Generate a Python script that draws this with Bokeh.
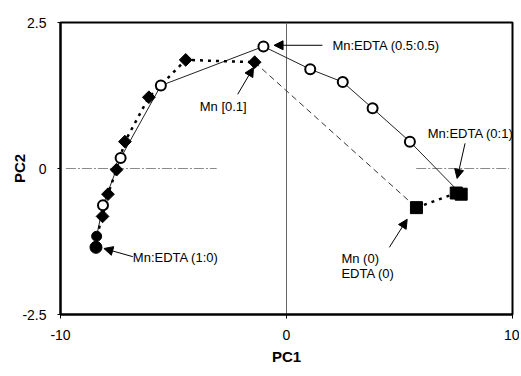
from bokeh.plotting import figure
from bokeh.models import Range1d, FixedTicker, Label, Arrow, NormalHead
from bokeh.embed import file_html
from bokeh.resources import INLINE

# Mn:EDTA mixing series (open circles, solid line) from 1:0 to 0:1
mix_x = [-8.43, -8.40, -8.12, -7.34, -5.56, -1.02, 1.05, 2.49, 3.81, 5.46, 7.73]
mix_y = [-1.35, -1.16, -0.63, 0.18, 1.42, 2.09, 1.70, 1.48, 1.03, 0.46, -0.44]

# Mn series (diamonds), from Mn high down to Mn [0.1]
mn_x = [-8.40, -8.14, -7.90, -7.52, -7.15, -6.09, -4.46, -1.41]
mn_y = [-1.16, -0.82, -0.44, -0.02, 0.46, 1.22, 1.86, 1.82]

# blank Mn(0) EDTA(0)
blank_x = [5.75]
blank_y = [-0.67]

# EDTA-only series (squares)
edta_x = [5.75, 7.51, 7.73]
edta_y = [-0.67, -0.42, -0.44]

FONT = "Liberation Sans"

p = figure(width=519, height=372, output_backend="svg", toolbar_location=None,
           x_range=Range1d(-10, 10), y_range=Range1d(-2.5, 2.5),
           min_border_left=60, min_border_right=7, min_border_top=22, min_border_bottom=58)
p.grid.visible = False
p.outline_line_color = "black"
p.outline_line_width = 2
p.background_fill_color = "white"
p.border_fill_color = "white"

for ax in (p.xaxis[0], p.yaxis[0]):
    ax.axis_line_width = 2
    ax.axis_line_color = "black"
    ax.minor_tick_line_color = None
    ax.major_tick_in = 0
    ax.major_tick_line_color = "black"
    ax.major_label_text_font = FONT
    ax.major_label_text_font_size = "14px"
    ax.major_label_text_color = "black"
    ax.axis_label_text_font = FONT
    ax.axis_label_text_font_size = "15px"
    ax.axis_label_text_font_style = "bold"
    ax.axis_label_text_color = "black"

p.xaxis.axis_label = "PC1"
p.yaxis.axis_label = "PC2"
p.xaxis.axis_label_standoff = 5
p.yaxis.axis_label_standoff = -9

p.xaxis.ticker = FixedTicker(ticks=[-10, 0, 10])
p.yaxis.ticker = FixedTicker(ticks=[-2.5, 0, 2.5])
p.xaxis.major_label_overrides = {-10: "-10", 0: "0", 10: "10"}
p.yaxis.major_label_overrides = {-2.5: "-2.5", 0: "0", 2.5: "2.5"}
p.xaxis.major_tick_out = 4
p.yaxis.major_tick_out = 3
p.xaxis.major_label_standoff = 11
p.yaxis.major_label_standoff = 11

# reference lines
p.segment(x0=[-9.76, 5.74], y0=[0, 0], x1=[-3.09, 9.85], y1=[0, 0],
          line_color="#8a8a8a", line_width=1.2, line_dash="10 2 2 2")
p.segment(x0=[0], y0=[-2.5], x1=[0], y1=[2.5], line_color="#666666", line_width=1)

# lines
p.line(mix_x, mix_y, line_color="#222222", line_width=1)
p.line(mn_x, mn_y, line_color="black", line_width=2.5, line_dash="3 5")
p.line([mn_x[-1], blank_x[0]], [mn_y[-1], blank_y[0]], line_color="#333333", line_width=1, line_dash="6 4")
p.line(edta_x, edta_y, line_color="black", line_width=2.5, line_dash="3 5")

# markers
p.scatter(mn_x[1:], mn_y[1:], marker="square", angle=0.7854, size=9, fill_color="black", line_color="black")
p.scatter(mix_x[2:-1], mix_y[2:-1], marker="circle", size=10, fill_color="white",
          line_color="black", line_width=2)
p.scatter(mix_x[:2], mix_y[:2], marker="circle", size=[12, 10], fill_color="black", line_color="black")
p.scatter(edta_x, edta_y, marker="square", size=12, fill_color="black", line_color="black")

# annotations
ann_text = ["Mn:EDTA (0.5:0.5)", "Mn [0.1]", "Mn:EDTA (0:1)", "Mn (0)", "EDTA (0)", "Mn:EDTA (1:0)"]
ann_x = [2.03, -3.84, 6.25, 2.43, 2.43, -6.80]
ann_y = [2.10, 1.06, 0.60, -1.54, -1.80, -1.52]
for t, x, y in zip(ann_text, ann_x, ann_y):
    p.add_layout(Label(x=x, y=y, text=t, text_font=FONT, text_font_size="13px",
                       text_baseline="middle", text_align="left", text_color="black"))

arr_x0 = [1.59, -2.16, 7.90, 4.55, -6.80]
arr_y0 = [2.11, 1.27, 0.43, -1.35, -1.51]
arr_x1 = [-0.55, -1.46, 7.55, 5.34, -8.08]
arr_y1 = [2.11, 1.73, -0.17, -0.87, -1.37]
for x0, y0, x1, y1 in zip(arr_x0, arr_y0, arr_x1, arr_y1):
    p.add_layout(Arrow(end=NormalHead(size=9, fill_color="black", line_color="black"),
                       x_start=x0, y_start=y0, x_end=x1, y_end=y1,
                       line_color="black", line_width=1))

open("out.html", "w").write(file_html(p, INLINE))
